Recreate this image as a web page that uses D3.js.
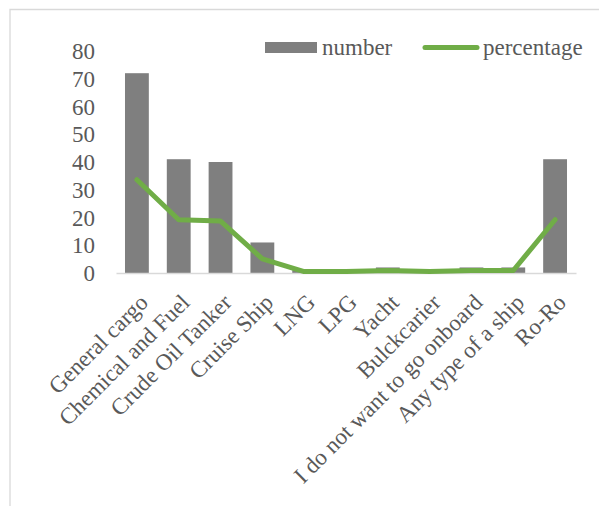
<!DOCTYPE html>
<html>
<head>
<meta charset="utf-8">
<script src="https://cdn.jsdelivr.net/npm/d3@7/dist/d3.min.js"></script>
<style>
  html, body { margin: 0; padding: 0; background: #ffffff; }
  svg { display: block; }
  svg text { font-family: "Liberation Serif", "Times New Roman", serif !important; fill: #595959 !important; }
</style>
</head>
<body>
<div id="chart"></div>
<script>
// Ship types chosen by respondents
const categories = [
  "General cargo", "Chemical and Fuel", "Crude Oil Tanker", "Cruise Ship",
  "LNG", "LPG", "Yacht", "Bulckcarier", "I do not want to go onboard",
  "Any type of a ship", "Ro-Ro"
];
const numberValues = [72, 41, 40, 11, 1, 1, 2, 1, 2, 2, 41];
const percentageValues = [33.6, 19.2, 18.7, 5.1, 0.5, 0.5, 0.9, 0.5, 0.9, 0.9, 19.2];
const yTicks = [0, 10, 20, 30, 40, 50, 60, 70, 80];
const seriesNames = ["number", "percentage"];

const W = 599, H = 506;
const barColor = "#7f7f7f";
const lineColor = "#70ad47";
const fontSize = 23;

const svg = d3.select("#chart").append("svg")
  .attr("width", W).attr("height", H);

// chart frame (top and left edges visible)
svg.append("path")
  .attr("d", d3.line()([[10, H], [10, 9.5], [W, 9.5]]))
  .attr("fill", "none")
  .attr("stroke", "#d9d9d9")
  .attr("stroke-width", 1.3);

const x = d3.scaleBand()
  .domain(categories)
  .range([116, 576])
  .paddingInner(0.43)
  .paddingOuter(0.215);

const y = d3.scaleLinear().domain([0, 80]).range([273, 51]);

// y axis labels
const yAxis = d3.axisLeft(y).tickValues(yTicks).tickSize(0).tickPadding(0);
const gy = svg.append("g").attr("transform", "translate(95,0)").call(yAxis);
gy.attr("font-family", null).attr("font-size", fontSize);
gy.select(".domain").remove();
gy.selectAll("text").attr("dy", "0.33em");

// bars
svg.append("g").selectAll("rect")
  .data(numberValues)
  .join("rect")
  .attr("x", (d, i) => x(categories[i]))
  .attr("y", d => y(d))
  .attr("width", x.bandwidth())
  .attr("height", d => y(0) - y(d))
  .attr("fill", barColor);

// category axis
const xAxis = d3.axisBottom(x).tickSize(0).tickPadding(0);
const gx = svg.append("g").attr("transform", `translate(0,${y(0)})`).call(xAxis);
gx.attr("font-family", null).attr("font-size", fontSize);
gx.select(".domain").attr("stroke", "#d9d9d9").attr("stroke-width", 1.3);
gx.selectAll(".tick text")
  .attr("text-anchor", "end")
  .attr("y", 0)
  .attr("dy", "0.33em")
  .attr("transform", "translate(7,25.5) rotate(-45)");

// percentage line
const line = d3.line()
  .x((d, i) => x(categories[i]) + x.bandwidth() / 2)
  .y(d => y(d));
svg.append("path")
  .datum(percentageValues)
  .attr("d", line)
  .attr("fill", "none")
  .attr("stroke", lineColor)
  .attr("stroke-width", 5)
  .attr("stroke-linejoin", "round")
  .attr("stroke-linecap", "round");

// legend
const legend = svg.append("g").attr("font-size", fontSize);
legend.append("rect")
  .attr("x", 265).attr("y", 42).attr("width", 52).attr("height", 11)
  .attr("fill", barColor);
legend.append("text")
  .attr("x", 322).attr("y", 54.5)
  .text(seriesNames[0]);
legend.append("line")
  .attr("x1", 425).attr("x2", 477).attr("y1", 47.5).attr("y2", 47.5)
  .attr("stroke", lineColor).attr("stroke-width", 5)
  .attr("stroke-linecap", "round");
legend.append("text")
  .attr("x", 483).attr("y", 54.5)
  .text(seriesNames[1]);
</script>
</body>
</html>
